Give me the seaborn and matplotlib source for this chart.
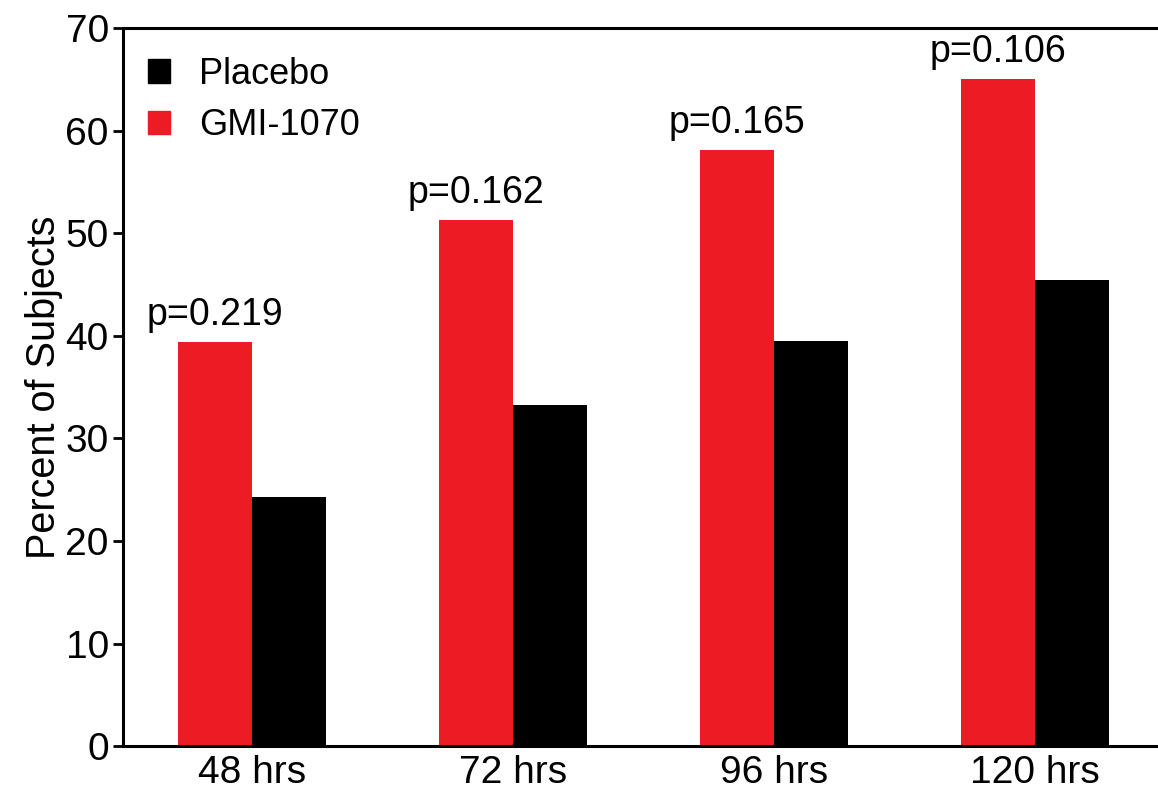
import pandas as pd
import matplotlib
matplotlib.use('Agg')
import matplotlib.pyplot as plt
import seaborn as sns
from matplotlib.patches import Patch

timepoints = ['48 hrs', '72 hrs', '96 hrs', '120 hrs']
gmi_1070 = [39.4, 51.3, 58.1, 65.0]
placebo = [24.3, 33.3, 39.5, 45.4]
p_values = ['p=0.219', 'p=0.162', 'p=0.165', 'p=0.106']

df = pd.DataFrame({
    'Time': timepoints * 2,
    'Percent': gmi_1070 + placebo,
    'Group': ['GMI-1070'] * 4 + ['Placebo'] * 4,
})

sns.set_style('ticks')
plt.rcParams['font.family'] = ['Liberation Sans', 'DejaVu Sans']
plt.rcParams['text.color'] = 'black'
plt.rcParams['axes.labelcolor'] = 'black'
plt.rcParams['xtick.color'] = 'black'
plt.rcParams['ytick.color'] = 'black'
plt.rcParams['axes.edgecolor'] = 'black'

colors = {'GMI-1070': '#ed1c24', 'Placebo': '#000000'}

fig = plt.figure(figsize=(11.58, 7.99), dpi=100)
ax = fig.add_axes([0.106, 0.066, 0.894, 0.899])
sns.barplot(data=df, x='Time', y='Percent', hue='Group',
            hue_order=['GMI-1070', 'Placebo'], palette=colors,
            width=0.567, saturation=1, linewidth=0, ax=ax, legend=False)

# p-values over the red bars
for i, (v, p) in enumerate(zip(gmi_1070, p_values)):
    ax.text(i - 0.1417, v + 0.9, p, ha='center', va='bottom', fontsize=27)

ax.set_ylim(0, 70)
ax.set_xlim(-0.494, 3.47)
ax.set_yticks(range(0, 71, 10))
ax.set_xlabel('')
ax.set_ylabel('Percent of Subjects', fontsize=28.5, labelpad=2)
ax.tick_params(axis='y', labelsize=28, width=2, length=7, direction='out', pad=3)
ax.tick_params(axis='x', labelsize=28, length=0, pad=6)

for side in ['left', 'bottom', 'top']:
    ax.spines[side].set_linewidth(2.2)
ax.spines['right'].set_visible(False)

handles = [Patch(color=colors['Placebo'], label='Placebo'),
           Patch(color=colors['GMI-1070'], label='GMI-1070')]
ax.legend(handles=handles, loc='upper left', frameon=False, fontsize=26,
          handlelength=0.62, handleheight=0.62, handletextpad=0.8,
          labelspacing=0.45, bbox_to_anchor=(0.0, 0.995), borderaxespad=0.3)

fig.savefig('out.png', dpi=100)
